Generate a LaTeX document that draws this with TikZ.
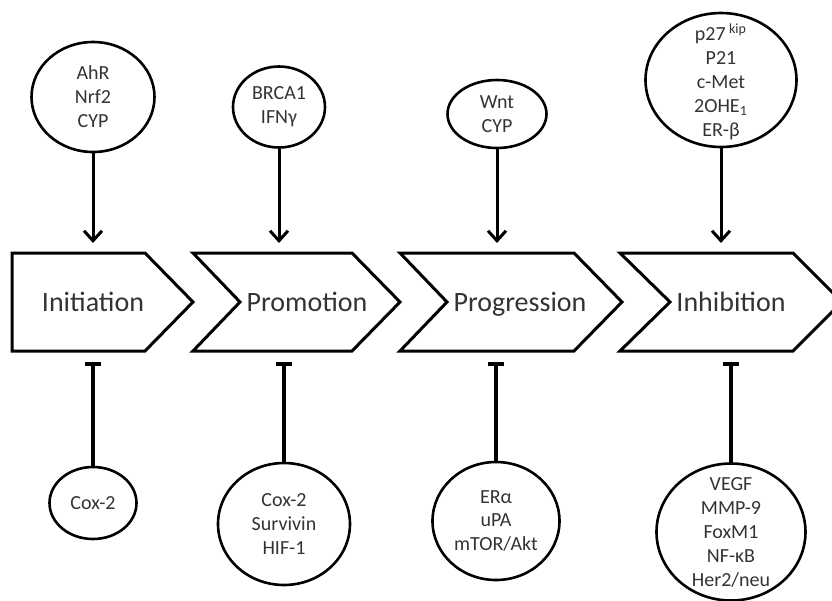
\documentclass[tikz,border=0pt]{standalone}
\usepackage{fontspec}
\setmainfont{Carlito}
\usetikzlibrary{arrows.meta,shapes.geometric}

\tikzset{
  blob/.style={draw, ellipse, line width=1.3pt, inner sep=0pt},
  txt/.style={align=center, text=black!80, font=\fontsize{10}{12}\selectfont},
  stage/.style={draw, line width=1.5pt, line join=miter},
  stagetxt/.style={anchor=base, text=black!80, font=\fontsize{14}{16}\selectfont},
  act/.style={line width=1.5pt, -{Straight Barb[length=5pt,width=9pt,line width=1.5pt]}},
  inh/.style={line width=1.8pt, -{Bar[width=8pt]}},
}

\begin{document}
\begin{tikzpicture}[x=0.5pt,y=-0.5pt]
\useasboundingbox (0,0) rectangle (832,601);
\clip (0,0) rectangle (832,601);
% stages
\draw[stage] (12,253) -- (145,253) -- (193,302) -- (145,351) -- (12,351) -- cycle;
\draw[stage] (193,253) -- (352,253) -- (400,302) -- (352,351) -- (193,351) -- (240,302) -- cycle;
\draw[stage] (400,253) -- (574,253) -- (622,302) -- (574,351) -- (400,351) -- (447,302) -- cycle;
\draw[stage] (620,253) -- (793,253) -- (842,302) -- (793,351) -- (620,351) -- (670,302) -- cycle;
\node[stagetxt] (init) at (93,311) {Initiation};
\node[stagetxt] (prom) at (307,311) {Promotion};
\node[stagetxt] (prog) at (520,311) {Progression};
\node[stagetxt] (inhb) at (731,311) {Inhibition};
\coordinate (top) at (0,243);
\coordinate (bot) at (0,362);
% activators
\node[blob, minimum width=61.5pt, minimum height=55pt] (ahr) at (93,97) {};
\node[txt] at (ahr) {AhR\\Nrf2\\CYP};
\node[blob, minimum width=46pt, minimum height=40.5pt] (brca) at (279,107) {};
\node[txt] at (brca) {BRCA1\\IFNγ};
\node[blob, minimum width=49.5pt, minimum height=34pt] (wnt) at (497,114) {};
\node[txt] at (wnt) {Wnt\\CYP};
\node[blob, minimum width=75.5pt, minimum height=67pt] (p27) at (721,80) {};
\node[txt] at ([yshift=-1pt]p27) {p27\,\textsuperscript{kip}\\P21\\c-Met\\2OHE\textsubscript{1}\\ER-β};
% inhibitors
\node[blob, minimum width=43.5pt, minimum height=36pt] (cox) at (93,503) {};
\node[txt] at (cox) {Cox-2};
\node[blob, minimum width=66pt, minimum height=61pt] (surv) at (284,524) {};
\node[txt] at (surv) {Cox-2\\Survivin\\HIF-1};
\node[blob, minimum width=63.5pt, minimum height=59pt] (era) at (496,521) {};
\node[txt] at (era) {ERα\\uPA\\mTOR/Akt};
\node[blob, minimum width=74.5pt, minimum height=68.5pt] (vegf) at (731,532) {};
\node[txt] at (vegf) {VEGF\\MMP-9\\FoxM1\\NF-κB\\Her2/neu};
% connectors
\draw[act] (ahr.south) -- (ahr.south |- top);
\draw[act] (brca.south) -- (brca.south |- top);
\draw[act] (wnt.south) -- (wnt.south |- top);
\draw[act] (p27.south) -- (p27.south |- top);
\draw[inh] (cox.north) -- (cox.north |- bot);
\draw[inh] (surv.north) -- (surv.north |- bot);
\draw[inh] (era.north) -- (era.north |- bot);
\draw[inh] (vegf.north) -- (vegf.north |- bot);
\end{tikzpicture}
\end{document}
